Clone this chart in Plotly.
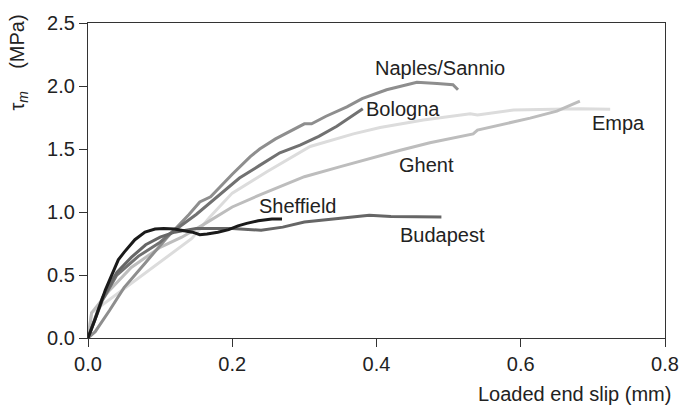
import plotly.graph_objects as go

# ---- data ----
sheffield_x = [0, 0.01, 0.024, 0.035, 0.042, 0.05, 0.065, 0.079, 0.093, 0.105, 0.12, 0.135, 0.145, 0.155, 0.165, 0.18, 0.195, 0.208, 0.22, 0.236, 0.255, 0.269]
sheffield_y = [0, 0.15, 0.38, 0.52, 0.62, 0.68, 0.78, 0.84, 0.865, 0.87, 0.865, 0.85, 0.84, 0.82, 0.825, 0.84, 0.86, 0.89, 0.91, 0.93, 0.945, 0.945]

budapest_x = [0, 0.02, 0.04, 0.06, 0.08, 0.1, 0.12, 0.15, 0.2, 0.24, 0.27, 0.3, 0.35, 0.39, 0.42, 0.49]
budapest_y = [0, 0.32, 0.52, 0.64, 0.74, 0.80, 0.84, 0.87, 0.87, 0.855, 0.88, 0.92, 0.95, 0.975, 0.965, 0.96]

bologna_x = [0, 0.02, 0.04, 0.07, 0.1, 0.114, 0.15, 0.2, 0.21, 0.238, 0.266, 0.294, 0.32, 0.345, 0.377, 0.381]
bologna_y = [0, 0.30, 0.50, 0.65, 0.76, 0.83, 0.98, 1.22, 1.27, 1.37, 1.47, 1.53, 1.60, 1.68, 1.81, 1.82]

naples_x = [0, 0.01, 0.03, 0.05, 0.08, 0.11, 0.14, 0.155, 0.17, 0.2, 0.225, 0.238, 0.26, 0.294, 0.3, 0.31, 0.33, 0.359, 0.38, 0.414, 0.456, 0.484, 0.506, 0.513]
naples_y = [0, 0.05, 0.22, 0.40, 0.60, 0.80, 0.98, 1.08, 1.12, 1.30, 1.44, 1.50, 1.58, 1.68, 1.70, 1.70, 1.76, 1.835, 1.90, 1.97, 2.03, 2.02, 2.01, 1.97]

ghent_x = [0, 0.005, 0.03, 0.06, 0.1, 0.13, 0.16, 0.2, 0.24, 0.3, 0.35, 0.405, 0.433, 0.474, 0.534, 0.54, 0.613, 0.65, 0.682]
ghent_y = [0, 0.20, 0.38, 0.56, 0.72, 0.80, 0.90, 1.04, 1.14, 1.28, 1.36, 1.45, 1.49, 1.55, 1.62, 1.65, 1.745, 1.80, 1.88]

empa_x = [0, 0.005, 0.144, 0.169, 0.2, 0.248, 0.308, 0.368, 0.405, 0.433, 0.465, 0.53, 0.54, 0.59, 0.682, 0.724]
empa_y = [0, 0.20, 0.79, 0.96, 1.15, 1.32, 1.52, 1.62, 1.67, 1.70, 1.73, 1.78, 1.77, 1.81, 1.82, 1.815]

labels = ["Naples/Sannio", "Bologna", "Empa", "Ghent", "Sheffield", "Budapest"]
label_x = [0.488, 0.437, 0.736, 0.469, 0.291, 0.492]
label_y = [2.145, 1.82, 1.707, 1.372, 1.05, 0.82]

x_ticks = [0.0, 0.2, 0.4, 0.6, 0.8]
y_ticks = [0.0, 0.5, 1.0, 1.5, 2.0, 2.5]

series = [
    ("Empa", empa_x, empa_y, "#dcdcdc"),
    ("Ghent", ghent_x, ghent_y, "#bdbdbd"),
    ("Naples/Sannio", naples_x, naples_y, "#8e8e8e"),
    ("Bologna", bologna_x, bologna_y, "#717171"),
    ("Budapest", budapest_x, budapest_y, "#666666"),
    ("Sheffield", sheffield_x, sheffield_y, "#1a1a1a"),
]

FONT = "Liberation Sans, Arial, Helvetica, sans-serif"
TXT = "#222222"
FS = 20

fig = go.Figure()
for name, xs, ys, col in series:
    fig.add_trace(go.Scatter(x=xs, y=ys, mode="lines", name=name,
                             line=dict(color=col, width=3), showlegend=False))

for t, lx, ly in zip(labels, label_x, label_y):
    fig.add_annotation(x=lx, y=ly, text=t, showarrow=False,
                       font=dict(family=FONT, size=FS, color=TXT),
                       xanchor="center", yanchor="middle")

# axis titles
fig.add_annotation(xref="paper", yref="paper", x=1.013, y=-0.177, text="Loaded end slip (mm)",
                   showarrow=False, xanchor="right", yanchor="middle",
                   font=dict(family=FONT, size=FS, color=TXT))
fig.add_annotation(xref="paper", yref="paper", x=-0.122, y=0.873,
                   text="τ<sub><i>m</i></sub>&nbsp;&nbsp;&nbsp;&nbsp;(MPa)", textangle=-90,
                   showarrow=False, xanchor="center", yanchor="middle",
                   font=dict(family=FONT, size=FS, color=TXT))

axis_common = dict(showline=True, linecolor="#333333", linewidth=1.3, mirror=True,
                   ticks="outside", ticklen=8, tickwidth=1.3, tickcolor="#333333",
                   showgrid=False, zeroline=False,
                   tickfont=dict(family=FONT, size=FS, color=TXT))

fig.update_xaxes(range=[0, 0.8], tickvals=x_ticks, ticktext=[f"{v:.1f}" for v in x_ticks], **axis_common)
fig.update_yaxes(range=[0, 2.5], tickvals=y_ticks, ticktext=[f"{v:.1f}" for v in y_ticks], **axis_common)

fig.update_layout(width=695, height=408,
                  margin=dict(l=88, r=29.5, t=14, b=70),
                  paper_bgcolor="white", plot_bgcolor="white")

fig.write_html("out.html")
